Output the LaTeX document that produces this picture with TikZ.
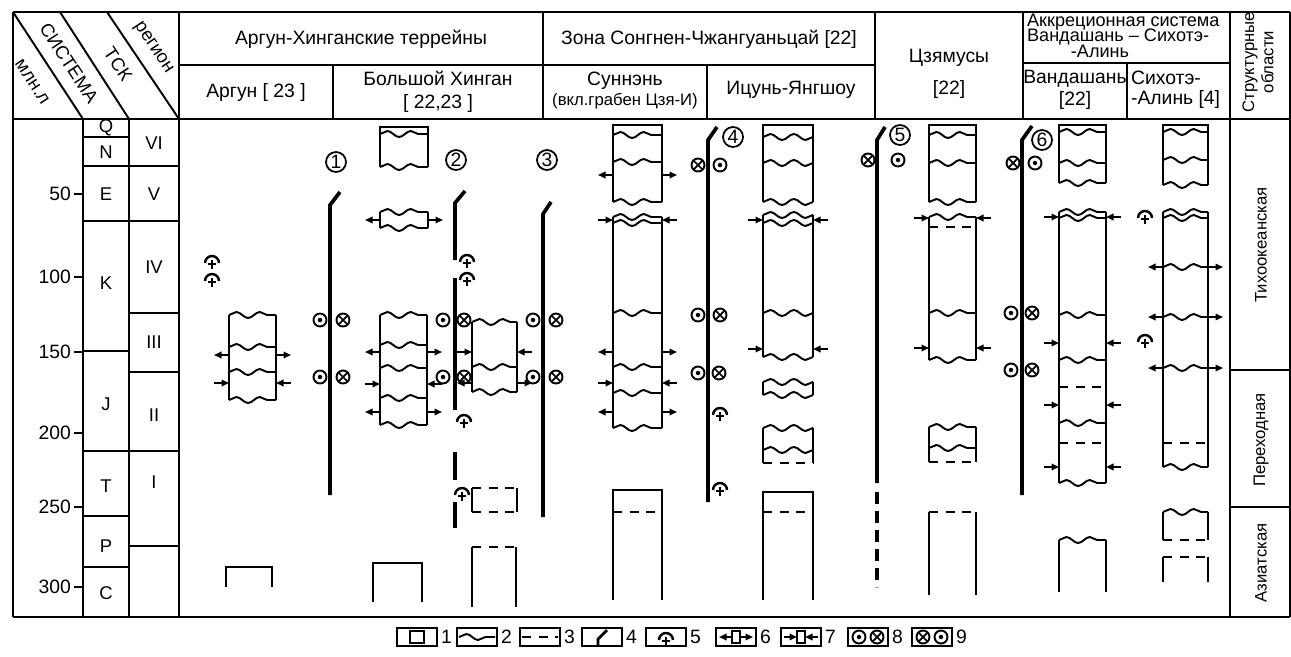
\documentclass[tikz,border=0pt]{standalone}
\usepackage{fontspec}
\setmainfont{Liberation Sans}
\usetikzlibrary{arrows.meta,decorations.pathmorphing}

\tikzset{
  grn/.pic={
    \draw[line width=1.4pt] (-7,0) arc[start angle=180,end angle=0,radius=1.4mm];
    \draw[line width=1.2pt] (-4,1)--(4,1) (0,-3)--(0,6);
  },
  dotc/.pic={
    \draw[line width=1.1pt] (0,0) circle[radius=1.3mm];
    \fill (0,0) circle[radius=0.45mm];
  },
  crsc/.pic={
    \draw[line width=1.1pt] (0,0) circle[radius=1.3mm];
    \draw[line width=1pt] (-4.2,-4.2)--(4.2,4.2) (-4.2,4.2)--(4.2,-4.2);
  },
}

% arrows pointing away from / towards a block
\newcommand{\arout}[3]{\draw[arr] (#1,#3) -- ({#1-15},#3); \draw[arr] (#2,#3) -- ({#2+15},#3);}
\newcommand{\arin}[3]{\draw[arr] ({#1-15},#3) -- (#1,#3); \draw[arr] ({#2+15},#3) -- (#2,#3);}

\begin{document}
\begin{tikzpicture}[x=0.02cm, y=-0.02cm,
    frm/.style={line width=1.1pt},
    bx/.style={line width=1.1pt},
    wv/.style={line width=1.1pt, decorate, decoration={snake, segment length=4.7mm, amplitude=0.6mm}},
    dsh/.style={line width=1.1pt, dash pattern=on 1.8mm off 1.5mm},
    flt/.style={line width=2.1pt},
    arr/.style={line width=1pt, -{Triangle[length=1.5mm, width=1.3mm]}},
    hd/.style={font=\fontsize{11}{13}\selectfont, inner sep=1pt},
    dg/.style={font=\fontsize{10.5}{12}\selectfont, inner sep=0pt, rotate=-56.6},
    sm/.style={font=\fontsize{9.5}{11}\selectfont, inner sep=1pt},
    tk/.style={font=\fontsize{10.5}{12}\selectfont, inner sep=1pt},
    num/.style={circle, draw, line width=1pt, inner sep=0pt, minimum size=4mm, font=\fontsize{11}{11}\selectfont}]
  \useasboundingbox (0,0) rectangle (1291,656);

  % frame and header grid
  \draw[frm] (13,12) -- (1290,12);
  \draw[frm] (13,119) -- (1290,119);
  \draw[frm] (13,617) -- (1290,617);
  \draw[frm] (13,12) -- (13,617);
  \draw[frm] (1290,12) -- (1290,617);
  \draw[frm] (83,119) -- (83,617);
  \draw[frm] (129,119) -- (129,617);
  \draw[frm] (179,12) -- (179,617);
  \draw[frm] (1230,12) -- (1230,617);
  \foreach \x in {543,875,1023} \draw[frm] (\x,12) -- (\x,119);
  \draw[frm] (179,65) -- (875,65);
  \draw[frm] (1023,63) -- (1230,63);
  \draw[frm] (333,65) -- (333,119);
  \draw[frm] (707,65) -- (707,119);
  \draw[frm] (1127,63) -- (1127,119);
  \draw[frm] (1230,370) -- (1290,370);
  \draw[frm] (1230,507) -- (1290,507);

  % diagonal corner
  \draw[frm] (13,12) -- (83,119);
  \draw[frm] (60,12) -- (129,119);
  \draw[frm] (107,12) -- (179,119);
  \node[dg] (mln) at (32,82) {млн.л};
  \node[dg] (sist) at (69,63) {СИСТЕМА};
  \node[dg] (tsk) at (118,64) {ТСК};
  \node[dg] (reg) at (153,48) {регион};

  % header texts
  \node[hd] (argh) at (361,39) {Аргун-Хинганские террейны};
  \node[hd] (arg) at (256,92) {Аргун [ 23 ]};
  \node[hd, align=center] (bh) at (438,92) {Большой Хинган\\{}[ 22,23 ]};
  \node[hd] (zona) at (709,39) {Зона Сонгнен-Чжангуаньцай [22]};
  \node[hd] (sun) at (625,81) {Суннэнь};
  \node[sm] (sun2) at (625,101) {(вкл.грабен Цзя-И)};
  \node[hd] (ic) at (791,90) {Ицунь-Янгшоу};
  \node[hd] (czm) at (949,58) {Цзямусы};
  \node[hd] (czm2) at (949,89) {[22]};
  \node[sm, font=\fontsize{10.3}{12}\selectfont, anchor=west] (akk1) at (1025,22) {Аккреционная система};
  \node[sm, font=\fontsize{10.3}{12}\selectfont, anchor=west] (akk2) at (1025,37) {Вандашань -- Сихотэ-};
  \node[sm, font=\fontsize{10.3}{12}\selectfont] (akk3) at (1100,51) {-Алинь};
  \node[hd] (van) at (1075,79) {Вандашань};
  \node[hd] (van2) at (1075,101) {[22]};
  \node[hd, anchor=west] (sih) at (1129,78) {Сихотэ-};
  \node[hd, anchor=west] (sih2) at (1129,100) {-Алинь [4]};
  \node[sm, rotate=90, align=center] (str) at (1258,62) {Структурные\\области};
  \node[sm, rotate=90] (tih) at (1261,245) {Тихоокеанская};
  \node[sm, rotate=90] (per) at (1261,440) {Переходная};
  \node[sm, rotate=90] (az) at (1261,563) {Азиатская};

  % time scale
  \foreach \t/\y in {50/194,100/277,150/352,200/433,250/507,300/587}{
    \draw[frm] (74,\y) -- (83,\y);
    \node[hd, anchor=east] (t\t) at (73,\y) {\t};
  }
  \foreach \y in {137,166,221,351,451,516,567} \draw[frm] (83,\y) -- (129,\y);
  \foreach \y in {166,221,313,372,451,546} \draw[frm] (129,\y) -- (179,\y);
  \foreach \s/\y in {Q/128,N/152,E/194,K/283,J/404,T/486,P/546,C/593}
    \node[tk] (s\s) at (106,\y) {\s};
  \foreach \s/\y in {VI/143,V/194,IV/267,III/342,II/415,I/482}
    \node[tk] (g\s) at (154,\y) {\s};

  % Аргун
  \pic at (212,263) {grn};
  \pic at (212,281) {grn};
  \draw[bx] (229,315) -- (229,400) (276,315) -- (276,400);
  \foreach \y in {315,347,372,400} \draw[wv] (229,\y) -- (276,\y);
  \arout{229}{276}{355}
  \arin{229}{276}{383}
  \draw[bx] (226,587) -- (226,567) -- (272,567) -- (272,587);

  % fault 1
  \draw[flt] (330,495) -- (330,205) -- (340,192);
  \node[num] (f1) at (336,162) {1};
  \pic at (320,320) {dotc}; \pic at (343,320) {crsc};
  \pic at (320,377) {dotc}; \pic at (343,377) {crsc};

  % Большой Хинган
  \draw[bx] (380,167) -- (380,127) -- (428,127) -- (428,167);
  \foreach \y in {134,167} \draw[wv] (380,\y) -- (428,\y);
  \draw[bx] (380,212) -- (380,228) (428,212) -- (428,228);
  \foreach \y in {212,228} \draw[wv] (380,\y) -- (428,\y);
  \arout{380}{428}{220}
  \draw[bx] (380,315) -- (380,425) (427,315) -- (427,425);
  \foreach \y in {315,345,368,398,425} \draw[wv] (380,\y) -- (427,\y);
  \arout{380}{427}{352}
  \arin{380}{427}{384}
  \arout{380}{427}{412}
  \draw[bx] (373,602) -- (373,563) -- (422,563) -- (422,602);

  % fault 2
  \draw[flt] (455,260) -- (455,203) -- (465,191);
  \draw[flt] (455,278) -- (455,410);
  \draw[flt] (455,452) -- (455,480);
  \draw[flt] (455,502) -- (455,528);
  \node[num] (f2) at (456,160) {2};
  \pic at (467,262) {grn}; \pic at (467,280) {grn};
  \pic at (464,422) {grn}; \pic at (462,495) {grn};
  \pic at (443,320) {dotc}; \pic at (464,320) {crsc};
  \pic at (443,377) {dotc}; \pic at (464,377) {crsc};

  % small block east of fault 2
  \draw[bx] (472,322) -- (472,392) (517,322) -- (517,392);
  \foreach \y in {322,367,392} \draw[wv] (472,\y) -- (517,\y);
  \arin{472}{517}{352}
  \arout{472}{517}{383}
  \draw[bx] (472,488) -- (472,512) (517,488) -- (517,512);
  \draw[dsh] (472,488) -- (517,488);
  \draw[dsh] (472,512) -- (517,512);
  \draw[bx] (472,607) -- (472,547) (516,547) -- (516,607);
  \draw[dsh] (472,547) -- (516,547);

  % fault 3
  \draw[flt] (543,517) -- (543,214) -- (551,202);
  \node[num] (f3) at (547,160) {3};
  \pic at (533,320) {dotc}; \pic at (556,320) {crsc};
  \pic at (533,377) {dotc}; \pic at (556,377) {crsc};

  % Суннэнь
  \draw[bx] (613,202) -- (613,125) -- (662,125) -- (662,202);
  \foreach \y in {135,162,202} \draw[wv] (613,\y) -- (662,\y);
  \arout{613}{662}{175}
  \draw[bx] (613,217) -- (613,428) (662,217) -- (662,428);
  \foreach \y in {217,223,313,367,393,428} \draw[wv] (613,\y) -- (662,\y);
  \arin{613}{662}{220}
  \arout{613}{662}{352}
  \arin{613}{662}{383}
  \arout{613}{662}{412}
  \draw[bx] (613,600) -- (613,490) -- (662,490) -- (662,600);
  \draw[dsh] (613,512) -- (662,512);

  % fault 4
  \draw[flt] (708,502) -- (708,140) -- (717,127);
  \node[num] (f4) at (733,137) {4};
  \pic at (698,165) {crsc}; \pic at (720,165) {dotc};
  \pic at (698,315) {dotc}; \pic at (720,315) {crsc};
  \pic at (698,373) {dotc}; \pic at (719,373) {crsc};
  \pic at (720,415) {grn}; \pic at (720,490) {grn};

  % Ицунь-Янгшоу
  \draw[bx] (763,202) -- (763,125) -- (813,125) -- (813,202);
  \foreach \y in {137,163,202} \draw[wv] (763,\y) -- (813,\y);
  \draw[bx] (763,215) -- (763,357) (813,215) -- (813,357);
  \foreach \y in {215,223,313,357} \draw[wv] (763,\y) -- (813,\y);
  \arin{763}{813}{220}
  \arin{763}{813}{349}
  \draw[bx] (763,382) -- (763,395) (813,382) -- (813,395);
  \foreach \y in {382,395} \draw[wv] (763,\y) -- (813,\y);
  \draw[bx] (763,428) -- (763,463) (813,428) -- (813,463);
  \foreach \y in {428,450} \draw[wv] (763,\y) -- (813,\y);
  \draw[dsh] (763,463) -- (813,463);
  \draw[bx] (763,600) -- (763,492) -- (813,492) -- (813,600);
  \draw[dsh] (763,512) -- (813,512);

  % fault 5
  \draw[flt] (877,483) -- (877,140) -- (885,127);
  \draw[flt, dash pattern=on 2.4mm off 1.4mm] (877,492) -- (877,587);
  \node[num] (f5) at (900,135) {5};
  \pic at (868,160) {crsc}; \pic at (898,160) {dotc};

  % Цзямусы
  \draw[bx] (929,202) -- (929,125) -- (976,125) -- (976,202);
  \foreach \y in {135,163,202} \draw[wv] (929,\y) -- (976,\y);
  \draw[bx] (929,217) -- (929,360) (976,217) -- (976,360);
  \foreach \y in {217,313,360} \draw[wv] (929,\y) -- (976,\y);
  \draw[dsh] (929,227) -- (976,227);
  \arin{929}{976}{218}
  \arin{929}{976}{348}
  \draw[bx] (929,427) -- (929,462) (976,427) -- (976,462);
  \foreach \y in {427,448} \draw[wv] (929,\y) -- (976,\y);
  \draw[dsh] (929,462) -- (976,462);
  \draw[bx] (929,595) -- (929,512) (976,512) -- (976,595);
  \draw[dsh] (929,512) -- (976,512);

  % fault 6
  \draw[flt] (1022,495) -- (1022,140) -- (1032,126);
  \node[num] (f6) at (1042,140) {6};
  \pic at (1013,163) {crsc}; \pic at (1035,163) {dotc};
  \pic at (1011,313) {dotc}; \pic at (1032,313) {crsc};
  \pic at (1011,370) {dotc}; \pic at (1032,370) {crsc};

  % Вандашань
  \draw[bx] (1059,183) -- (1059,125) -- (1106,125) -- (1106,183);
  \foreach \y in {132,163,183} \draw[wv] (1059,\y) -- (1106,\y);
  \draw[bx] (1059,212) -- (1059,483) (1106,212) -- (1106,483);
  \foreach \y in {212,218,315,360,423,483} \draw[wv] (1059,\y) -- (1106,\y);
  \foreach \y in {387,443} \draw[dsh] (1059,\y) -- (1106,\y);
  \arin{1059}{1106}{217}
  \arin{1059}{1106}{343}
  \arin{1059}{1106}{405}
  \arin{1059}{1106}{467}
  \draw[bx] (1059,592) -- (1059,540) (1106,540) -- (1106,592);
  \draw[wv] (1059,540) -- (1106,540);

  % Сихотэ-Алинь
  \draw[bx] (1163,185) -- (1163,125) -- (1208,125) -- (1208,185);
  \foreach \y in {132,160,185} \draw[wv] (1163,\y) -- (1208,\y);
  \draw[bx] (1163,212) -- (1163,467) (1208,212) -- (1208,467);
  \foreach \y in {212,218,267,317,368,467} \draw[wv] (1163,\y) -- (1208,\y);
  \draw[dsh] (1163,443) -- (1208,443);
  \arout{1163}{1208}{267}
  \arout{1163}{1208}{317}
  \arout{1163}{1208}{368}
  \pic at (1145,218) {grn}; \pic at (1145,342) {grn};
  \draw[bx] (1163,512) -- (1163,540) (1208,512) -- (1208,540);
  \draw[wv] (1163,512) -- (1208,512);
  \draw[dsh] (1163,540) -- (1208,540);
  \draw[bx] (1163,582) -- (1163,557) (1208,557) -- (1208,582);
  \draw[dsh] (1163,557) -- (1208,557);

  % legend
  \foreach \x/\n in {397/1,457/2,520/3,582/4,646/5,716/6,781/7,848/8,912/9}{
    \draw[frm] (\x,628) rectangle ++(40,18);
    \node[hd, anchor=west] (l\n) at (\x+42,637) {\n};
  }
  \draw[bx] (410,631) rectangle (424,643);
  \draw[wv] (459,637) -- (495,637);
  \draw[dsh] (522,637) -- (558,637);
  \draw[line width=1.6pt] (598,646) -- (598,639) -- (607,630);
  \pic at (666,640) {grn};
  \draw[bx] (732,631) rectangle (740,643);
  \draw[arr] (732,637) -- (719,637);
  \draw[arr] (740,637) -- (753,637);
  \draw[bx] (797,631) rectangle (805,643);
  \draw[arr] (784,637) -- (797,637);
  \draw[arr] (818,637) -- (805,637);
  \pic at (859,637) {dotc}; \pic at (877,637) {crsc};
  \pic at (923,637) {crsc}; \pic at (941,637) {dotc};
\end{tikzpicture}
\end{document}
